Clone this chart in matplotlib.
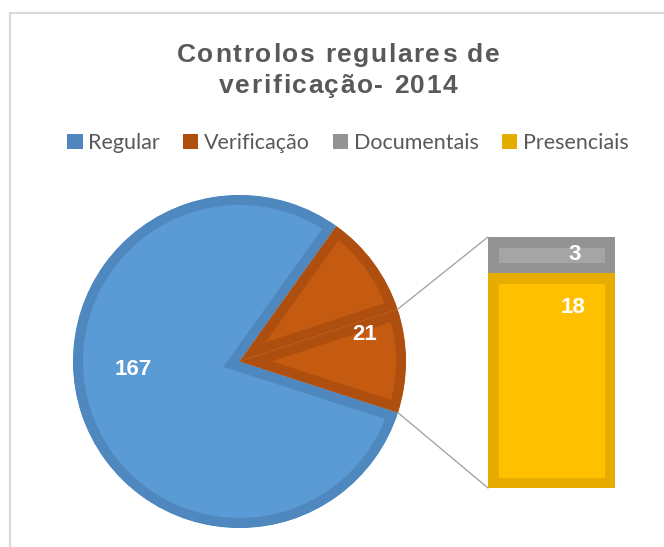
import matplotlib
matplotlib.use('Agg')
import matplotlib.pyplot as plt
from matplotlib.patches import Patch, Rectangle, ConnectionPatch
import numpy as np

# data
pie_labels = ['Regular', 'Verificação', 'Outros']
pie_values = [167, 21, 21]
bar_labels = ['Presenciais', 'Documentais']
bar_values = [18, 3]
legend_labels = ['Regular', 'Verificação', 'Documentais', 'Presenciais']
title_lines = ['Controlos regulares de', 'verificação- 2014']

# colours (fill, border)
pie_fill = ['#5B9BD5', '#C55A11', '#C55A11']
pie_edge = ['#4F88BE', '#AE4F0F', '#AE4F0F']
bar_fill = ['#FFC000', '#A5A5A5']
bar_edge = ['#E6AD00', '#939393']
legend_colors = ['#4F88BE', '#AE4F0F', '#939393', '#E6AD00']
text_gray = '#595959'
lbl = dict(color='white', fontsize=16, fontweight='bold',
           family='Liberation Sans', ha='center', va='center')

W, H = 664, 547
fig = plt.figure(figsize=(W / 100, H / 100), dpi=100)
fig.patch.set_facecolor('white')

# pie axes in pixel-like coordinates
ax = fig.add_axes([0, 0, 1, 1])
cx, cy, r = 239.5, H - 361.5, 166.5
wedges, _ = ax.pie(pie_values, colors=pie_fill, startangle=-17.9,
                   counterclock=False, center=(cx, cy), radius=r,
                   wedgeprops=dict(linewidth=14.4, joinstyle='miter'))
ax.set_xlim(0, W)
ax.set_ylim(0, H)
ax.set_aspect('equal')
ax.axis('off')
for w, ec in zip(wedges, pie_edge):
    w.set_edgecolor(ec)
    # keep the border inside the slice
    w.set_clip_on(True)
    w.set_clip_path(w)

# data labels of the pie
ax.text(cx - 106, cy - 8, str(pie_values[0]), **lbl)
ax.text(cx + 125, cy + 27, str(pie_values[1]), **lbl)

# stacked bar of the "other" slice
bx = fig.add_axes([488 / W, (H - 488) / H, 127 / W, 251 / H])
bottom = 0
for v, fc, ec in zip(bar_values, bar_fill, bar_edge):
    bars = bx.bar(0, v, width=1, bottom=bottom, color=fc, edgecolor=ec,
                  linewidth=15, joinstyle='miter')
    for b in bars:
        b.set_clip_path(b)
    bottom += v
bx.set_xlim(-0.5, 0.5)
bx.set_ylim(0, sum(bar_values))
bx.axis('off')
bx.text(0.18, bar_values[0] + bar_values[1] / 2, str(bar_values[1]), **lbl)
bx.text(0.17, bar_values[0] - 2.9, str(bar_values[0]), **lbl)

# series lines from the slice to the bar
a1 = np.deg2rad(-17.9 + pie_values[2] / sum(pie_values) * 360)
a2 = np.deg2rad(-17.9)
for ang, yb in [(a1, sum(bar_values)), (a2, 0)]:
    con = ConnectionPatch(xyA=(cx + r * np.cos(ang), cy + r * np.sin(ang)),
                          coordsA=ax.transData, xyB=(-0.5, yb),
                          coordsB=bx.transData, color='#A6A6A6', lw=1)
    fig.add_artist(con)

# chart frame
fig.add_artist(Rectangle((9.5 / W, -0.1), 1.2, 1 - 13.3 / H + 0.1,
                         transform=fig.transFigure, fill=False,
                         edgecolor='#D9D9D9', lw=1.5))


# title with a little letter spacing
def spaced_text(s, xc, yb, spacing, **kw):
    rend = fig.canvas.get_renderer()

    def width(txt):
        t = fig.text(0, 0, txt, **kw)
        w = t.get_window_extent(rend).width
        t.remove()
        return w

    ref = width('H')
    offs = [width(s[:i] + 'H') - ref if i else 0 for i in range(len(s))]
    total = width(s) + spacing * (len(s) - 1)
    x0 = xc - total / 2
    for i, ch in enumerate(s):
        fig.text((x0 + offs[i] + i * spacing) / W, 1 - yb / H, ch,
                 ha='left', va='baseline', **kw)


tkw = dict(fontsize=19, fontweight='bold', color=text_gray,
           family='Liberation Sans')
spaced_text(title_lines[0], 338, 62, 1.6, **tkw)
spaced_text(title_lines[1], 338, 93, 1.6, **tkw)

# legend
handles = [Patch(facecolor=c, edgecolor='none') for c in legend_colors]
fig.legend(handles, legend_labels, loc='center', ncol=4, frameon=False,
           bbox_to_anchor=(348 / W, 1 - 143 / H), prop=dict(family='Lato', size=15.5),
           labelcolor=text_gray, handlelength=0.7, handleheight=0.7,
           handletextpad=0.25, columnspacing=1.1, borderaxespad=0)

fig.savefig('out.png', dpi=100)
